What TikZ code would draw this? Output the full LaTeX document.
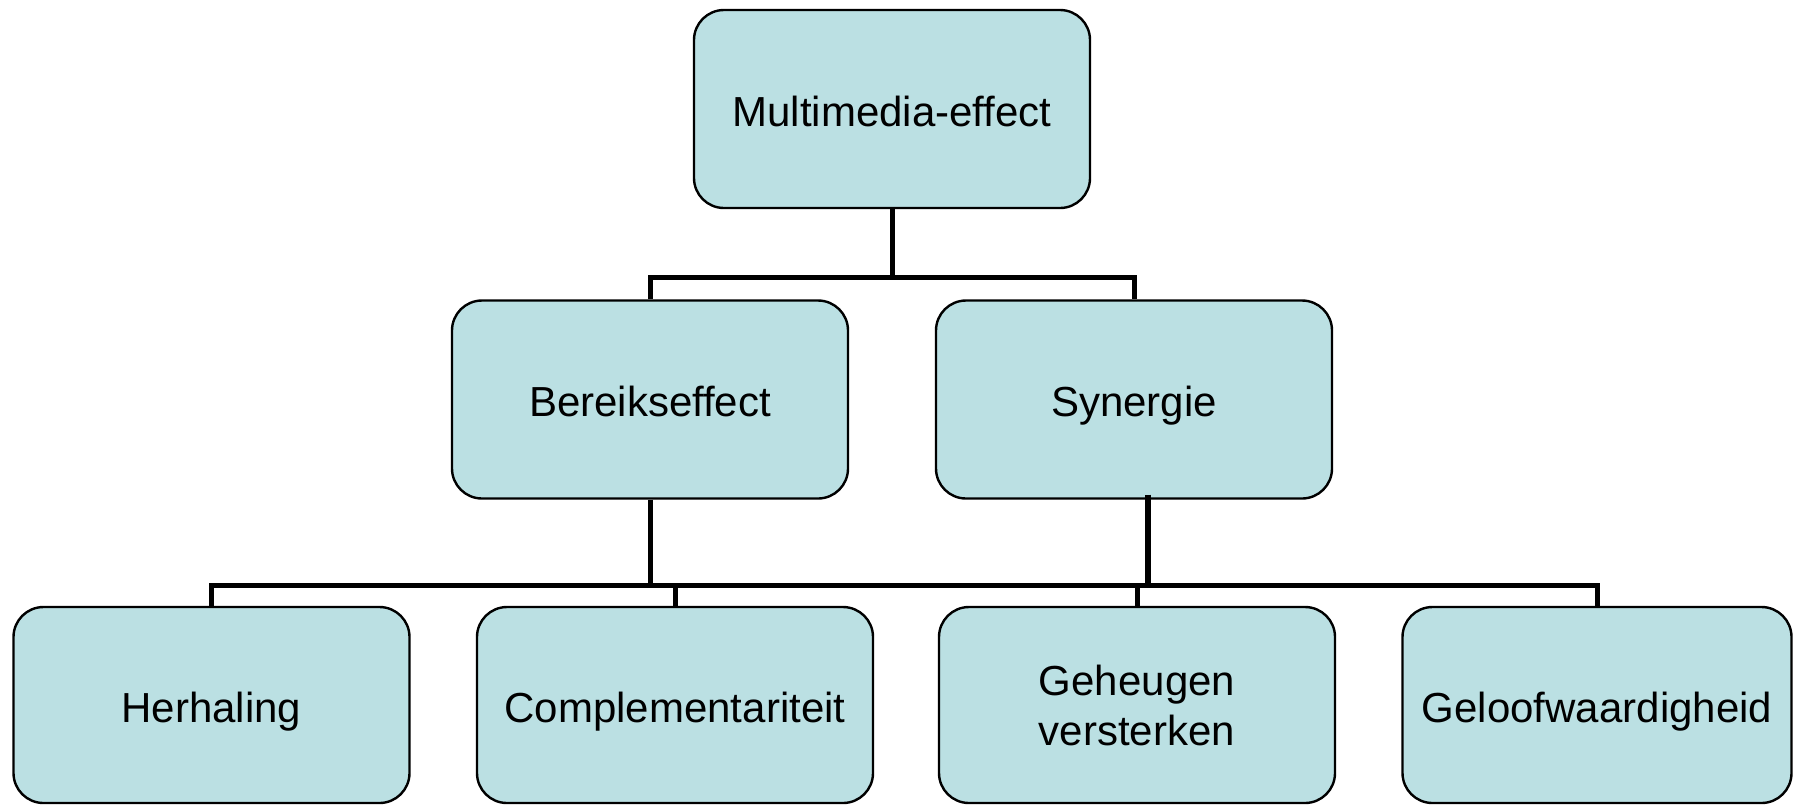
\documentclass[tikz,border=0pt]{standalone}
\usepackage{fontspec}
\setmainfont{Liberation Sans}
\usepackage{xcolor}
\usepackage{tikz}
\definecolor{boxblue}{RGB}{187,224,227}
\tikzset{
roundboxv1/.style={rectangle, rounded corners=15pt, draw=black!100, fill=boxblue, line width=1.2pt, inner sep=3pt, minimum width=198pt, minimum height=99pt, font=\fontsize{21}{25}\selectfont, align=center},
roundboxv2/.style={roundboxv1, minimum height=98pt},
textlow/.style={text height=17pt, text depth=0pt},
connectorv1/.style={draw=black!100, line width=2.5pt},
connectorv2/.style={draw=black!100, line width=3pt},
}

\begin{document}
\begin{tikzpicture}[x=0.5pt, y=-0.5pt]
\useasboundingbox (0,0) rectangle (1793,805);
\node[roundboxv1,textlow] at (892,109) (multi) {Multimedia-effect};
\node[roundboxv1,textlow] at (650,399.5) (bereik) {Bereikseffect};
\node[roundboxv1,textlow] at (1134,399.5) (synergie) {Synergie};
\node[roundboxv2,textlow] at (211.5,705) (herhaling) {Herhaling};
\node[roundboxv2,textlow] at (675,705) (compl) {Complementariteit};
\node[roundboxv2] at (1137,705) (geheugen) {Geheugen\\versterken};
\node[roundboxv2,textlow,minimum width=194.5pt] at (1597,705) (geloof) {Geloofwaardigheid};
\coordinate (bar1) at (892,277);
\coordinate (bar2) at (650,585);

\draw[connectorv1] (multi.south) -- (bar1);
\draw[connectorv1] (bereik.north) |- (bar1) -| (synergie.north);
\draw[connectorv1] (bereik.south) -- (bar2);
\draw[connectorv1] (herhaling.north) |- (bar2) -| (geloof.north);
\draw[connectorv1] (compl.north) -- (compl.north |- bar2);
\draw[connectorv1] (geheugen.north) -- (geheugen.north |- bar2);
\draw[connectorv2] ([xshift=7pt,yshift=2.5pt]synergie.south) -- ([xshift=7pt,yshift=-1.5pt]synergie.south |- bar2);
\end{tikzpicture}
\end{document}
